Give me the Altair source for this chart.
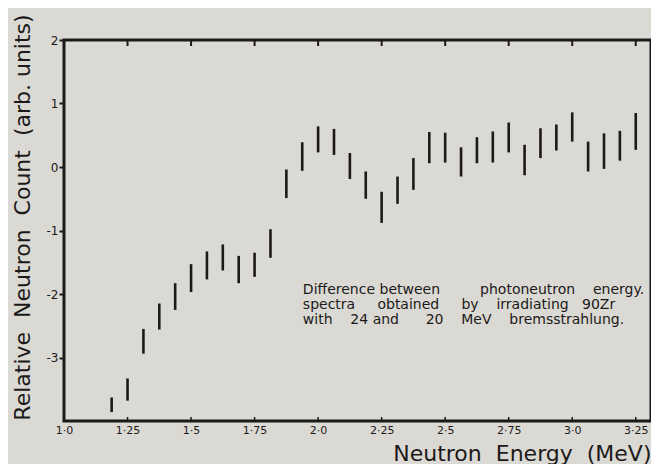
import json
import altair as alt
import pandas as pd

# ---- data ----
energy = [1.1875, 1.25, 1.3125, 1.375, 1.4375, 1.5, 1.5625, 1.625, 1.6875, 1.75,
          1.8125, 1.875, 1.9375, 2.0, 2.0625, 2.125, 2.1875, 2.25, 2.3125, 2.375,
          2.4375, 2.5, 2.5625, 2.625, 2.6875, 2.75, 2.8125, 2.875, 2.9375, 3.0,
          3.0625, 3.125, 3.1875, 3.25]
upper = [-3.63, -3.33, -2.55, -2.15, -1.83, -1.53, -1.33, -1.22, -1.40, -1.35,
         -0.98, -0.04, 0.39, 0.64, 0.60, 0.22, -0.07, -0.39, -0.15, 0.14,
         0.55, 0.54, 0.31, 0.47, 0.56, 0.70, 0.35, 0.61, 0.67, 0.86,
         0.40, 0.53, 0.57, 0.85]
lower = [-3.86, -3.68, -2.94, -2.56, -2.25, -1.97, -1.77, -1.63, -1.83, -1.73,
         -1.43, -0.49, -0.06, 0.23, 0.19, -0.19, -0.50, -0.88, -0.58, -0.36,
         0.06, 0.07, -0.15, 0.06, 0.07, 0.23, -0.13, 0.14, 0.26, 0.40,
         -0.07, -0.03, 0.10, 0.27]

x_ticks = [1.0, 1.25, 1.5, 1.75, 2.0, 2.25, 2.5, 2.75, 3.0, 3.25]
x_tick_labels = ["1·0", "1·25", "1·5", "1·75", "2·0", "2·25", "2·5", "2·75", "3·0", "3·25"]
y_ticks = [2, 1, 0, -1, -2, -3]
y_tick_labels = ["2", "1", "0", "-1", "-2", "-3"]

NB = "\u00a0"
ann_lines = [
    "Difference" + NB + "between" + NB * 9 + "photoneutron" + NB * 4 + "energy.",
    "spectra" + NB * 5 + "obtained" + NB * 5 + "by" + NB * 4 + "irradiating" + NB * 3 + "90Zr",
    "with" + NB * 4 + "24" + NB + "and" + NB * 6 + "20" + NB * 4 + "MeV" + NB * 4 + "bremsstrahlung.",
]
ann_x = [1.94, 1.94, 1.94]
ann_y = [-2.0, -2.236, -2.472]

x_title = "Neutron" + NB * 2 + "Energy" + NB * 2 + "(MeV)"
y_title = "Relative" + NB * 2 + "Neutron" + NB * 2 + "Count" + NB * 2 + "(arb. units)"

INK = "#1c1a19"
BG = "#dbd9d4"
W, H = 587, 381

df = pd.DataFrame({"E": energy, "hi": upper, "lo": lower})
ann = pd.DataFrame({"x": ann_x, "y": ann_y, "t": ann_lines})
ticks_df = pd.DataFrame({"t": x_ticks[1:]})

xscale = alt.Scale(domain=[1.0, 3.31], nice=False, zero=False)
yscale = alt.Scale(domain=[-4.0, 2.0], nice=False, zero=False)

xlab = f"{json.dumps(x_tick_labels, ensure_ascii=False)}[indexof({json.dumps(x_ticks)}, datum.value)]"
ylab = f"{json.dumps(y_tick_labels)}[indexof({json.dumps(y_ticks)}, datum.value)]"

bars = alt.Chart(df).mark_rule(color=INK, strokeWidth=2.6).encode(
    x=alt.X("E:Q", scale=xscale,
            axis=alt.Axis(values=x_ticks, labelExpr=xlab, title=x_title,
                          titleX=W, titleAlign="right", titleAnchor="end",
                          titleFontSize=22, titleFontWeight="normal",
                          titleFont="DejaVu Sans", titleColor=INK, titlePadding=8,
                          labelFont="DejaVu Sans", labelFontSize=11, labelColor=INK,
                          labelPadding=3, labelFlush=False,
                          ticks=False, domain=False, grid=False)),
    y=alt.Y("hi:Q", scale=yscale,
            axis=alt.Axis(values=y_ticks, labelExpr=ylab, title=y_title,
                          titleY=177,
                          titleFontSize=22, titleFontWeight="normal", titleFont="DejaVu Sans",
                          titleColor=INK, titlePadding=12,
                          labelFont="DejaVu Sans", labelFontSize=12, labelColor=INK,
                          labelPadding=1, tickSize=5, tickWidth=2, tickColor=INK,
                          domain=False, grid=False)),
    y2="lo:Q",
)

top_ticks = alt.Chart(ticks_df).mark_rule(color=INK, strokeWidth=2).encode(
    x=alt.X("t:Q", scale=xscale, axis=None),
    y=alt.value(0), y2=alt.value(6),
)
bottom_ticks = alt.Chart(ticks_df).mark_rule(color=INK, strokeWidth=1.5).encode(
    x=alt.X("t:Q", scale=xscale, axis=None),
    y=alt.value(H - 4), y2=alt.value(H),
)

text = alt.Chart(ann).mark_text(align="left", baseline="alphabetic", font="DejaVu Sans",
                                fontSize=14, color=INK).encode(
    x=alt.X("x:Q", scale=xscale, axis=None),
    y=alt.Y("y:Q", scale=yscale, axis=None),
    text="t:N",
)

chart = alt.layer(bars, top_ticks, bottom_ticks, text).resolve_axis(
    x="independent", y="independent"
).properties(
    width=W, height=H, background=BG,
    padding={"left": 3, "top": 5, "right": 0, "bottom": 0},
).configure_view(stroke=INK, strokeWidth=3)

chart.save("out.html", embed_options={"renderer": "svg", "actions": False})
